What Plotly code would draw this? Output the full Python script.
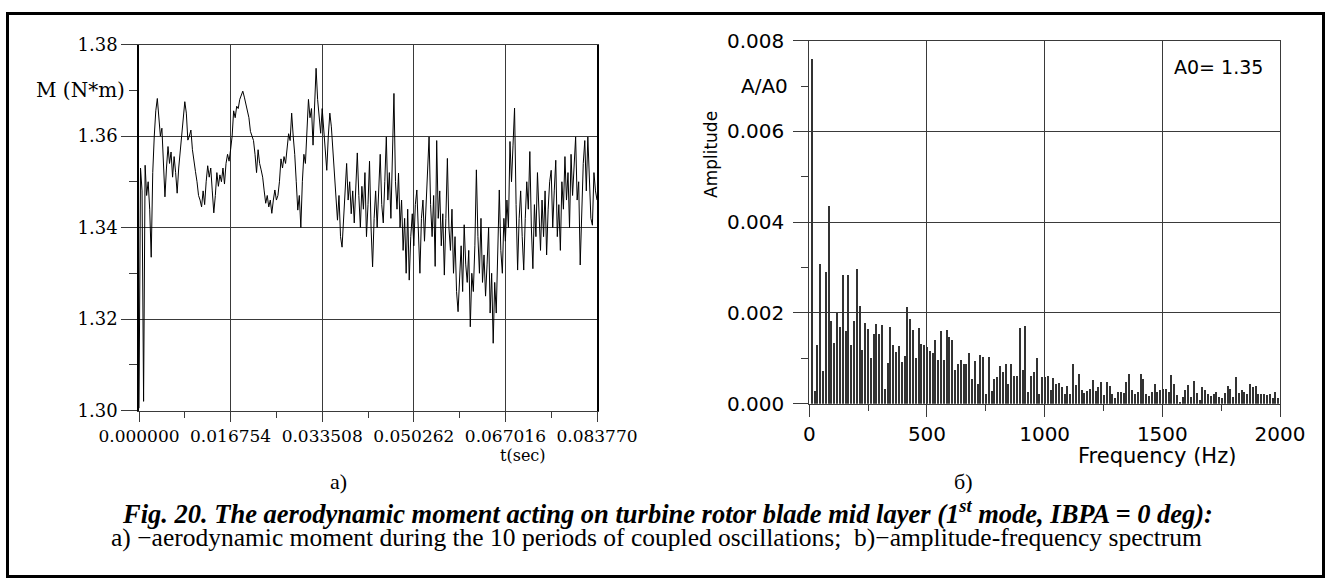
import numpy as np
import plotly.graph_objects as go

# ---------------- data ----------------
T_END = 0.08377
t_ticks = [0.0, 0.016754, 0.033508, 0.050262, 0.067016, 0.083770]
t_ticktext = ["0.000000", "0.016754", "0.033508", "0.050262", "0.067016", "0.083770"]
m_ticks = [1.30, 1.32, 1.34, 1.36, 1.38]
m_ticktext = ["1.30", "1.32", "1.34", "1.36", "1.38"]

moment = [
    1.3005, 1.3530, 1.3480, 1.3020, 1.3536, 1.3470, 1.3500, 1.3440, 1.3335, 1.3520,
    1.3600, 1.3655, 1.3682, 1.3640, 1.3600, 1.3617, 1.3550, 1.3467, 1.3530, 1.3577,
    1.3540, 1.3565, 1.3510, 1.3555, 1.3520, 1.3475, 1.3530, 1.3570, 1.3610, 1.3640,
    1.3675, 1.3650, 1.3591, 1.3600, 1.3613, 1.3570, 1.3540, 1.3522, 1.3500, 1.3470,
    1.3460, 1.3445, 1.3480, 1.3450, 1.3500, 1.3535, 1.3510, 1.3530, 1.3480, 1.3432,
    1.3470, 1.3520, 1.3490, 1.3515, 1.3500, 1.3530, 1.3495, 1.3540, 1.3560, 1.3545,
    1.3570, 1.3600, 1.3655, 1.3640, 1.3665, 1.3660, 1.3680, 1.3690, 1.3698, 1.3685,
    1.3670, 1.3660, 1.3640, 1.3610, 1.3598, 1.3590, 1.3560, 1.3520, 1.3570, 1.3540,
    1.3526, 1.3510, 1.3480, 1.3453, 1.3470, 1.3445, 1.3460, 1.3431, 1.3460, 1.3482,
    1.3460, 1.3470, 1.3500, 1.3550, 1.3530, 1.3555, 1.3540, 1.3580, 1.3605, 1.3590,
    1.3650, 1.3600, 1.3560, 1.3500, 1.3438, 1.3470, 1.3400, 1.3500, 1.3560, 1.3540,
    1.3600, 1.3680, 1.3640, 1.3660, 1.3580, 1.3650, 1.3748, 1.3680, 1.3640, 1.3606,
    1.3660, 1.3620, 1.3570, 1.3525, 1.3600, 1.3650, 1.3620, 1.3570, 1.3500, 1.3460,
    1.3416, 1.3470, 1.3380, 1.3357, 1.3420, 1.3490, 1.3540, 1.3460, 1.3500, 1.3430,
    1.3480, 1.3410, 1.3500, 1.3563, 1.3470, 1.3400, 1.3490, 1.3440, 1.3520, 1.3380,
    1.3450, 1.3545, 1.3400, 1.3314, 1.3420, 1.3480, 1.3400, 1.3500, 1.3560, 1.3450,
    1.3410, 1.3500, 1.3598, 1.3460, 1.3520, 1.3420, 1.3550, 1.3693, 1.3500, 1.3440,
    1.3519, 1.3400, 1.3460, 1.3350, 1.3420, 1.3300, 1.3440, 1.3285, 1.3380, 1.3430,
    1.3360, 1.3450, 1.3482, 1.3380, 1.3300, 1.3420, 1.3460, 1.3370, 1.3440, 1.3500,
    1.3598, 1.3450, 1.3380, 1.3470, 1.3315, 1.3590, 1.3420, 1.3480, 1.3360, 1.3430,
    1.3296, 1.3420, 1.3551, 1.3400, 1.3350, 1.3440, 1.3300, 1.3380, 1.3260, 1.3216,
    1.3300, 1.3360, 1.3260, 1.3406, 1.3320, 1.3280, 1.3350, 1.3183, 1.3300, 1.3260,
    1.3360, 1.3526, 1.3380, 1.3300, 1.3420, 1.3280, 1.3340, 1.3250, 1.3320, 1.3400,
    1.3213, 1.3300, 1.3147, 1.3280, 1.3213, 1.3360, 1.3482, 1.3350, 1.3300, 1.3420,
    1.3370, 1.3460, 1.3400, 1.3588, 1.3500, 1.3580, 1.3661, 1.3450, 1.3307, 1.3420,
    1.3480, 1.3380, 1.3307, 1.3420, 1.3500, 1.3440, 1.3566, 1.3400, 1.3310, 1.3450,
    1.3380, 1.3520, 1.3420, 1.3350, 1.3460, 1.3380, 1.3480, 1.3340, 1.3440, 1.3500,
    1.3525, 1.3400, 1.3480, 1.3547, 1.3380, 1.3450, 1.3350, 1.3500, 1.3440, 1.3555,
    1.3460, 1.3520, 1.3400, 1.3560, 1.3470, 1.3530, 1.3598, 1.3460, 1.3500, 1.3318,
    1.3450, 1.3540, 1.3590, 1.3480, 1.3598, 1.3500, 1.3420, 1.3405, 1.3520, 1.3480,
    1.3460,
]

freq_step = 11.937  # Hz (1 / 0.08377 s)
amplitude = [
    0.00760, 0.00028, 0.00129, 0.00308, 0.00073, 0.00290, 0.00437, 0.00184, 0.00134, 0.00200,
    0.00169, 0.00284, 0.00160, 0.00285, 0.00129, 0.00184, 0.00297, 0.00216, 0.00118, 0.00178,
    0.00166, 0.00102, 0.00155, 0.00177, 0.00155, 0.00175, 0.00034, 0.00091, 0.00169, 0.00131,
    0.00114, 0.00127, 0.00092, 0.00105, 0.00214, 0.00188, 0.00164, 0.00102, 0.00168, 0.00133,
    0.00131, 0.00125, 0.00117, 0.00112, 0.00141, 0.00097, 0.00160, 0.00098, 0.00164, 0.00147,
    0.00141, 0.00076, 0.00089, 0.00096, 0.00089, 0.00089, 0.00113, 0.00056, 0.00094, 0.00043,
    0.00109, 0.00103, 0.00023, 0.00103, 0.00028, 0.00056, 0.00059, 0.00083, 0.00070, 0.00089,
    0.00045, 0.00089, 0.00061, 0.00061, 0.00168, 0.00074, 0.00171, 0.00026, 0.00062, 0.00070,
    0.00102, 0.00023, 0.00059, 0.00059, 0.00062, 0.00030, 0.00058, 0.00043, 0.00046, 0.00037,
    0.00023, 0.00040, 0.00021, 0.00089, 0.00041, 0.00067, 0.00030, 0.00024, 0.00029, 0.00032,
    0.00053, 0.00029, 0.00037, 0.00048, 0.00019, 0.00048, 0.00040, 0.00023, 0.00013, 0.00026,
    0.00026, 0.00025, 0.00048, 0.00067, 0.00031, 0.00023, 0.00026, 0.00067, 0.00056, 0.00023,
    0.00018, 0.00026, 0.00043, 0.00026, 0.00030, 0.00034, 0.00032, 0.00026, 0.00065, 0.00045,
    0.00019, 0.00004, 0.00015, 0.00030, 0.00041, 0.00015, 0.00050, 0.00025, 0.00008, 0.00037,
    0.00030, 0.00023, 0.00017, 0.00023, 0.00026, 0.00015, 0.00014, 0.00024, 0.00039, 0.00034,
    0.00015, 0.00059, 0.00024, 0.00030, 0.00026, 0.00023, 0.00045, 0.00037, 0.00040, 0.00023,
    0.00021, 0.00021, 0.00019, 0.00021, 0.00014, 0.00026, 0.00013,
]
f_ticks = [0, 500, 1000, 1500, 2000]
a_ticks = [0.000, 0.002, 0.004, 0.006, 0.008]
a_ticktext = ["0.000", "0.002", "0.004", "0.006", "0.008"]

# ---------------- derived ----------------
time = np.linspace(0.0, T_END, len(moment))
freqs = freq_step * np.arange(1, len(amplitude) + 1)

W, H = 1330, 586
def px(x):
    return x / W
def py(y):
    return 1 - y / H

GRID = "#3a3a3a"
SERIF = "DejaVu Serif"
SANS = "DejaVu Sans"
TIMES = "Liberation Serif"

fig = go.Figure()
fig.add_trace(go.Scatter(x=time, y=moment, mode="lines",
                         line=dict(color="black", width=1),
                         xaxis="x", yaxis="y", showlegend=False, hoverinfo="skip"))
fig.add_trace(go.Bar(x=freqs, y=amplitude, width=4.3,
                     marker=dict(color="#333333", line=dict(width=0)),
                     xaxis="x2", yaxis="y2", showlegend=False, hoverinfo="skip"))

common = dict(showline=True, mirror=True, linecolor=GRID, linewidth=1,
              showgrid=True, gridcolor=GRID, gridwidth=1, zeroline=False,
              ticks="outside", tickcolor=GRID, tickwidth=1, automargin=False)
left_y = dict(common, linecolor="black", linewidth=1.6)

fig.update_layout(
    width=W, height=H, autosize=False, showlegend=False,
    margin=dict(l=0, r=0, t=0, b=0, pad=0, autoexpand=False),
    paper_bgcolor="white", plot_bgcolor="white",
    bargap=0,
    xaxis=dict(domain=[px(139), px(597)], range=[0, T_END], anchor="y",
               tickmode="array", tickvals=t_ticks, ticktext=t_ticktext,
               ticklen=10, tickfont=dict(family=SERIF, size=17, color="black"),
               minor=dict(tickvals=[0.008377, 0.025131, 0.041885, 0.058639, 0.075393],
                          ticks="outside", ticklen=6, tickcolor=GRID, showgrid=False),
               **common),
    yaxis=dict(domain=[py(410.5), py(44.5)], range=[1.30, 1.38], anchor="x",
               tickmode="array", tickvals=m_ticks, ticktext=m_ticktext,
               ticklen=16, tickfont=dict(family=SERIF, size=18, color="black"),
               minor=dict(tickvals=[1.31, 1.33, 1.35, 1.37],
                          ticks="outside", ticklen=8, tickcolor=GRID, showgrid=False),
               **left_y),
    xaxis2=dict(domain=[px(809.3), px(1280)], range=[0, 2000], anchor="y2",
                tickmode="array", tickvals=f_ticks,
                ticklen=12, tickfont=dict(family=SANS, size=20, color="black"),
                minor=dict(tickvals=[250, 750, 1250, 1750],
                           ticks="outside", ticklen=6, tickcolor=GRID, showgrid=False),
                **common),
    yaxis2=dict(domain=[py(403.7), py(40.7)], range=[0, 0.008], anchor="x2",
                tickmode="array", tickvals=a_ticks, ticktext=a_ticktext,
                ticklen=15, ticklabelstandoff=5,
                tickfont=dict(family=SANS, size=20, color="black"),
                minor=dict(tickvals=[0.001, 0.003, 0.005, 0.007],
                           ticks="outside", ticklen=7, tickcolor=GRID, showgrid=False),
                **common),
)

ann = [
    dict(text="M (N*m)", xref="x domain", x=0, xanchor="right", xshift=-12,
         yref="y", y=1.37, yanchor="middle", font=dict(family=SERIF, size=20, color="black")),
    dict(text="t(sec)", xref="paper", x=px(523), yref="paper", y=py(455),
         xanchor="center", yanchor="middle", font=dict(family=SERIF, size=16, color="black")),
    dict(text="A/A0", xref="x2 domain", x=0, xanchor="right", xshift=-19,
         yref="y2", y=0.007, yanchor="middle", font=dict(family=SANS, size=20, color="black")),
    dict(text="Amplitude", xref="paper", x=px(711), yref="paper", y=py(155),
         xanchor="center", yanchor="middle", textangle=-90,
         font=dict(family=SANS, size=17, color="black")),
    dict(text="A0= 1.35", xref="paper", x=px(1172), yref="paper", y=py(67),
         xanchor="left", yanchor="middle", font=dict(family=SANS, size=19, color="black")),
    dict(text="Frequency (Hz)", xref="paper", x=px(1157), yref="paper", y=py(456),
         xanchor="center", yanchor="middle", font=dict(family=SANS, size=21, color="black")),
    dict(text="а)", xref="paper", x=px(338), yref="paper", y=py(481),
         xanchor="center", yanchor="middle", font=dict(family=TIMES, size=22, color="black")),
    dict(text="б)", xref="paper", x=px(963), yref="paper", y=py(481),
         xanchor="center", yanchor="middle", font=dict(family=TIMES, size=22, color="black")),
    dict(text="<b><i>Fig. 20. The aerodynamic moment acting on turbine rotor blade mid layer (1<sup>st</sup> mode, IBPA = 0 deg):</i></b>",
         xref="paper", x=px(667), yref="paper", y=py(512),
         xanchor="center", yanchor="middle", font=dict(family=TIMES, size=26.5, color="black")),
    dict(text="a) \u2212aerodynamic moment during the 10 periods of coupled oscillations;  b)\u2212amplitude-frequency spectrum",
         xref="paper", x=px(656), yref="paper", y=py(537),
         xanchor="center", yanchor="middle", font=dict(family=TIMES, size=25.5, color="black")),
]
for a in ann:
    a["showarrow"] = False
    fig.add_annotation(**a)

fig.add_shape(type="rect", xref="paper", yref="paper",
              x0=px(7.5), x1=px(1323.5), y0=py(576.5), y1=py(13.5),
              line=dict(color="black", width=3), fillcolor="rgba(0,0,0,0)", layer="above")

fig.write_html("out.html")
